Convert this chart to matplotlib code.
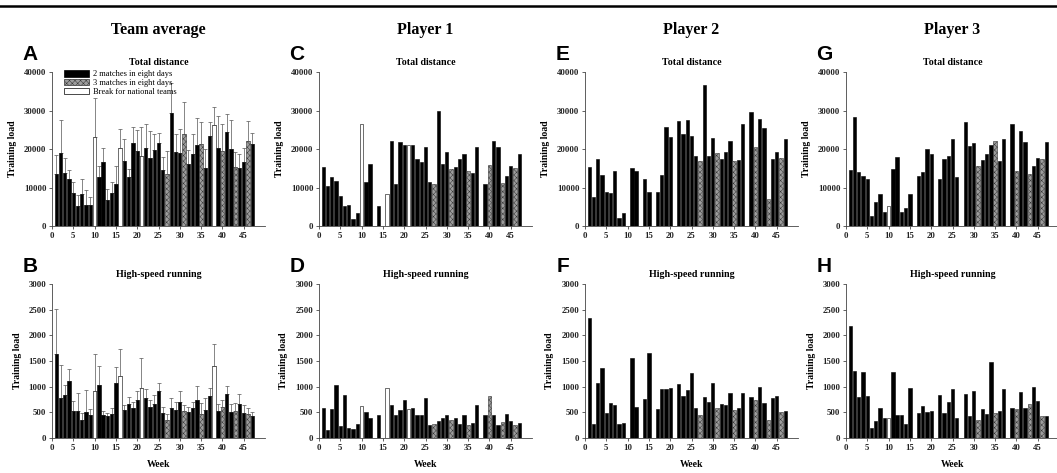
"""
Weekly training load: team average and three players (total distance, high-speed running)
"""
import numpy as np
import matplotlib
matplotlib.use('Agg')
import matplotlib.pyplot as plt
from matplotlib.lines import Line2D
from matplotlib.patches import Patch

plt.rcParams.update({
    'font.family': ['Liberation Serif', 'DejaVu Serif'],
    'font.weight': 'bold', 'axes.labelweight': 'bold',
    'axes.linewidth': 0.6, 'hatch.linewidth': 0.35,
    'xtick.major.size': 2, 'ytick.major.size': 2,
    'xtick.major.width': 0.5, 'ytick.major.width': 0.5,
})

W, H = 1057, 473
weeks = list(range(1, 48))
break_weeks = [10, 16, 21, 38]
three_weeks = [27, 31, 35, 40, 43, 46]

# team average (mean and top of SD whisker)
team_td = [13500, 19000, 13700, 12200, 8700, 5300, 8400, 5500, 5500, 23000,
           12800, 16700, 6700, 8500, 11000, 20200, 16900, 12800, 21500, 19400,
           18300, 20300, 17700, 19800, 21600, 14500, 13600, 29300, 19100, 19000,
           23800, 16200, 18700, 21000, 21300, 15000, 23400, 26300, 20300, 19500,
           24300, 20000, 15400, 15100, 16700, 22000, 21400]
team_td_top = [18500, 27500, 17700, 14500, 11300, 8000, 12200, 9300, 7600, 33200,
               15700, 20300, 9700, 11500, 15600, 25200, 22600, 14900, 25700, 25000,
               25700, 26400, 24800, 24000, 24200, 18000, 19500, 37200, 24000, 25100,
               32100, 19700, 24000, 28000, 27000, 19900, 27000, 30800, 28600, 26600,
               29200, 27600, 19200, 18600, 20300, 27300, 24200]
team_hsr = [1640, 770, 840, 1110, 520, 520, 350, 500, 440, 910,
            1040, 450, 430, 460, 1070, 1200, 550, 670, 580, 740,
            970, 770, 600, 660, 910, 480, 360, 590, 550, 700,
            530, 510, 580, 750, 470, 540, 810, 1400, 530, 600,
            860, 500, 520, 660, 490, 460, 430]
team_hsr_top = [2510, 1420, 1040, 1350, 720, 870, 490, 930, 560, 1640,
                1400, 530, 490, 580, 1390, 1730, 650, 790, 700, 910,
                1550, 950, 740, 830, 1080, 600, 460, 770, 710, 910,
                650, 600, 700, 1010, 680, 770, 980, 1840, 660, 740,
                1020, 660, 690, 850, 650, 580, 510]

p1_td = [15400, 10500, 12600, 11700, 7900, 5300, 5400, 1700, 3400, 26400,
         11300, 16100, None, 5300, None, 8400, 22200, 11000, 21900, 21000,
         21100, 21000, 17500, 16600, 20500, 11300, 11000, 29800, 16200, 19200,
         14700, 15200, 17400, 18800, 14300, 13700, 20400, None, 11000, 15900,
         22200, 20600, 11100, 12900, 15700, 15000, 18700]
p1_hsr = [580, 160, 570, 1040, 230, 840, 190, 170, 270, 630,
          510, 380, None, 440, None, 980, 640, 440, 540, 750,
          560, 590, 440, 450, 780, 260, 280, 340, 390, 450,
          350, 380, 280, 450, 250, 300, 650, None, 450, 810,
          450, 260, 310, 470, 340, 260, 290]
p2_td = [15400, 7500, 17300, 13200, 8900, 8600, 14400, 2000, 3400, None,
         15000, 14300, None, 12100, 8900, None, 8900, 13200, 25700, 23200,
         None, 27400, 23800, 27600, 23400, 18300, 16900, 36600, 18200, 22900,
         19000, 17400, 19300, 22000, 16900, 17100, 26600, None, 29600, 20600,
         27800, 25400, 7000, 17400, 19200, 17600, 22600]
p2_hsr = [2340, 270, 1070, 1370, 490, 680, 640, 280, 300, None,
          1560, 600, None, 760, 1650, None, 560, 950, 950, 980,
          None, 1050, 810, 930, 1270, 590, 450, 800, 700, 1070,
          580, 670, 640, 880, 550, 580, 870, None, 800, 750,
          1000, 690, 350, 780, 810, 510, 530]
p3_td = [14500, 28200, 13900, 13100, 12200, 2500, 6300, 8300, 3700, 5100,
         14700, 17900, 3700, 4800, 8200, None, 13000, 14000, 20000, 18700,
         None, 12200, 17300, 18200, 22500, 12600, None, 27100, 20800, 21500,
         15500, 17200, 18600, 21000, 22100, 17000, 22700, None, 26600, 14200,
         24800, 21700, 13600, 15500, 17600, 17400, 21800]
p3_hsr = [2180, 1300, 800, 1280, 810, 190, 330, 580, 380, 380,
          1290, 450, 450, 280, 970, None, 490, 620, 500, 530,
          None, 840, 490, 700, 950, 380, None, 860, 420, 920,
          360, 570, 470, 1490, 490, 520, 960, None, 590, 560,
          890, 580, 670, 990, 720, 430, 430]

headers = ['Team average', 'Player 1', 'Player 2', 'Player 3']
letters = [['A', 'B'], ['C', 'D'], ['E', 'F'], ['G', 'H']]
td_sets = [team_td, p1_td, p2_td, p3_td]
hsr_sets = [team_hsr, p1_hsr, p2_hsr, p3_hsr]
tops = [[team_td_top, team_hsr_top], [None, None], [None, None], [None, None]]

STYLE = {'2': dict(color='black', edgecolor='black', hatch=None),
         '3': dict(color='#9c9c9c', edgecolor='#333333', hatch='xxxxxx'),
         'b': dict(color='white', edgecolor='black', hatch=None)}

def kind(w):
    if w in break_weeks: return 'b'
    if w in three_weeks: return '3'
    return '2'

def draw(ax, vals, top, ymax, title):
    for k in ['2', '3', 'b']:
        idx = [i for i, w in enumerate(weeks) if kind(w) == k and vals[i] is not None]
        x = [weeks[i] for i in idx]; y = [vals[i] for i in idx]
        st = STYLE[k]
        ax.bar(x, y, width=0.78, color=st['color'], edgecolor=st['edgecolor'],
               hatch=st['hatch'], linewidth=0.4, zorder=3)
        if top is not None:
            err = [top[i] - vals[i] for i in idx]
            ax.errorbar(x, y, yerr=[np.zeros(len(err)), err], fmt='none',
                        ecolor='#555555', elinewidth=0.5, capsize=1.6, capthick=0.5, zorder=2)
    ax.set_xlim(0, 50); ax.set_ylim(0, ymax)
    ax.set_xticks(range(0, 46, 5))
    for s in ['top', 'right']: ax.spines[s].set_visible(False)
    for s in ['left', 'bottom']: ax.spines[s].set_color('#444444')
    ax.tick_params(labelsize=6.3, pad=2, colors='#222222')
    ax.set_ylabel('Training load', fontsize=7, labelpad=5)
    ax.set_title(title, fontsize=7.2, fontweight='bold', pad=5)

fig = plt.figure(figsize=(W / 100, H / 100), dpi=100)
lefts = [52, 319, 585, 846]
aw, ah = 213, 154
rows = [(72, 40000, 'Total distance', 10000), (284, 3000, 'High-speed running', 500)]
for c, lx in enumerate(lefts):
    for r, (ty, ymax, ttl, step) in enumerate(rows):
        ax = fig.add_axes([lx / W, 1 - (ty + ah) / H, aw / W, ah / H])
        vals = td_sets[c] if r == 0 else hsr_sets[c]
        draw(ax, vals, tops[c][r], ymax, ttl)
        ax.set_yticks(np.arange(0, ymax + 1, step))
        for t in ax.get_xticklabels() + ax.get_yticklabels(): t.set_fontweight('bold')
        if r == 1: ax.set_xlabel('Week', fontsize=7, labelpad=6)
        if c == 0 and r == 0:
            hnd = [Patch(facecolor=STYLE[k]['color'], edgecolor=STYLE[k]['edgecolor'],
                         hatch=STYLE[k]['hatch'], linewidth=0.5) for k in ['2', '3', 'b']]
            ax.legend(hnd, ['2 matches in eight days', '3 matches in eight days',
                            'Break for national teams'],
                      loc='upper left', bbox_to_anchor=(0.03, 1.05), frameon=False,
                      prop={'size': 6, 'weight': 'normal'}, handlelength=3.0,
                      handleheight=0.8, labelspacing=0.1, handletextpad=0.5, borderpad=0.2)
        fig.text((lx - 22) / W, 1 - (ty - 18) / H, letters[c][r], fontsize=15,
                 fontweight='bold', family=['Liberation Sans', 'DejaVu Sans'],
                 ha='center', va='center')
    fig.text((lx + aw / 2) / W, 1 - 30 / H, headers[c], fontsize=11.5,
             fontweight='bold', ha='center', va='center')

fig.add_artist(Line2D([0, 1], [1 - 6 / H, 1 - 6 / H], color='black', lw=1.8,
                      transform=fig.transFigure))
fig.savefig('out.png', dpi=100)
